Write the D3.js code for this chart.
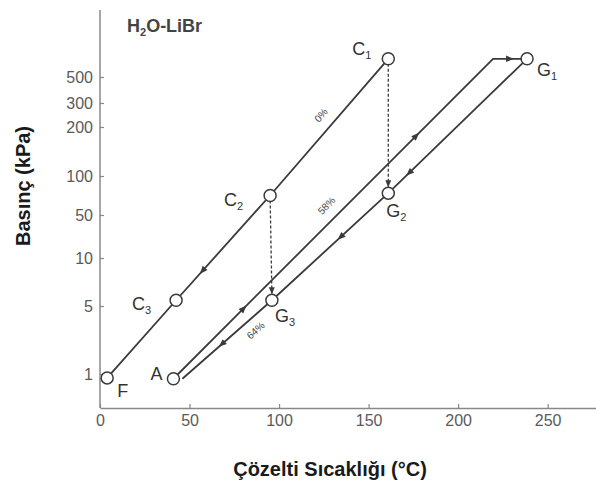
<!DOCTYPE html>
<html>
<head>
<meta charset="utf-8">
<script src="https://d3js.org/d3.v7.min.js"></script>
<style>
  body { margin: 0; background: #fff; }
  svg { display: block; font-family: "Liberation Sans", Arial, sans-serif; }
</style>
</head>
<body>
<svg id="chart" width="596" height="482"></svg>
<script>
// state points of the cycle (temperature °C, pressure kPa)
const stateNames = ["C1", "C2", "C3", "F", "A", "G1", "G2", "G3"];
const stateTemp  = [161, 95, 42.5, 4, 41, 238.5, 161, 96];
const statePress = [640, 75, 5.6, 0.77, 0.72, 640, 78, 5.6];

// concentration lines, in flow direction: [temp, pressure]
const line0  = [[161, 640], [95, 75], [42.5, 5.6], [4, 0.77]];
const line58 = [[41, 0.72], [219.5, 640], [238.5, 640]];
const line64 = [[238.5, 640], [161, 78], [96, 5.6], [46, 0.72]];
const lineNames = ["0%", "58%", "64%"];

// dashed drops between states
const drops = [["C1", "G2"], ["C2", "G3"]];

const xTicks = [0, 50, 100, 150, 200, 250];
const yTicks = [1, 5, 10, 50, 100, 200, 300, 500];

const svg = d3.select("#chart");
const width = +svg.attr("width");
const height = +svg.attr("height");
const ink = "#3a3a3a";

// the pressure axis of the original is non-uniform, so map each tick to its own spot
const yTickPos = [374, 306, 258, 215, 176, 127, 103, 77];
const x = d3.scaleLinear().domain([0, 277]).range([100, width]);
const y = d3.scaleLinear().domain(yTicks).range(yTickPos);
const axisY = 408, axisTop = 10;

const defs = svg.append("defs");
defs.append("marker")
    .attr("id", "head")
    .attr("markerUnits", "userSpaceOnUse")
    .attr("markerWidth", 8).attr("markerHeight", 8)
    .attr("refX", 7).attr("refY", 3)
    .attr("orient", "auto")
  .append("path")
    .attr("d", "M0,0L7,3L0,6Z")
    .attr("fill", ink);

// axes
const gx = svg.append("g")
    .attr("transform", `translate(0,${axisY})`)
    .call(d3.axisBottom(x).tickValues(xTicks).tickSize(-4).tickSizeOuter(0).tickPadding(7));

const gy = svg.append("g")
    .attr("transform", `translate(${x(0)},0)`)
    .call(d3.axisLeft(y).tickValues(yTicks).tickSize(-4).tickSizeOuter(0).tickPadding(7));
gy.select(".domain").remove();
svg.append("line")
    .attr("x1", x(0)).attr("x2", x(0))
    .attr("y1", axisTop).attr("y2", axisY)
    .attr("stroke", "#888").attr("stroke-width", 1.5);

[gx, gy].forEach(g => {
  g.selectAll(".domain").attr("stroke", "#888").attr("stroke-width", 1.5);
  g.selectAll(".tick line").attr("stroke", "#888").attr("stroke-width", 1.2);
  g.selectAll(".tick text")
      .attr("fill", "#5a5a5a")
      .style("font-size", "16px")
      .style("font-family", "'Liberation Sans', Arial, sans-serif");
});

// axis titles
svg.append("text")
    .attr("transform", `translate(30,186) rotate(-90)`)
    .attr("text-anchor", "middle")
    .attr("fill", "#1a1a1a")
    .style("font-size", "20px").style("font-weight", "bold")
    .text("Basınç (kPa)");

svg.append("text")
    .attr("x", 330).attr("y", 476)
    .attr("text-anchor", "middle")
    .attr("fill", "#1a1a1a")
    .style("font-size", "20px").style("font-weight", "bold")
    .text("Çözelti Sıcaklığı (°C)");

// system label
const sys = svg.append("text")
    .attr("x", 127).attr("y", 32)
    .attr("fill", "#444")
    .style("font-size", "18px").style("font-weight", "bold");
sys.append("tspan").text("H");
sys.append("tspan").attr("dy", 4).style("font-size", "11px").text("2");
sys.append("tspan").attr("dy", -4).text("O-LiBr");

// concentration lines
const lines = [line0, line58, line64];
const toPx = d => [x(d[0]), y(d[1])];
const path = d3.line().x(d => x(d[0])).y(d => y(d[1]));

svg.append("g").selectAll("path")
  .data(lines)
  .join("path")
    .attr("d", path)
    .attr("fill", "none")
    .attr("stroke", ink)
    .attr("stroke-width", 1.8);

// dashed drops, ending on the top of the lower circle
const r = 6;
const state = name => {
  const i = stateNames.indexOf(name);
  return [stateTemp[i], statePress[i]];
};
svg.append("g").selectAll("line")
  .data(drops)
  .join("line")
    .attr("x1", d => x(state(d[0])[0]))
    .attr("y1", d => y(state(d[0])[1]))
    .attr("x2", d => x(state(d[1])[0]))
    .attr("y2", d => y(state(d[1])[1]) - r)
    .attr("stroke", ink)
    .attr("stroke-width", 1.3)
    .attr("stroke-dasharray", "3,2")
    .attr("marker-end", "url(#head)");

// flow arrows along lines: [line, segment, fraction]
const arrowMarks = [[0, 1, 0.72], [1, 0, 0.22], [1, 0, 0.76], [1, 1, 0.5],
                    [2, 0, 0.85], [2, 1, 0.41], [2, 2, 0.56]];
svg.append("g").selectAll("path")
  .data(arrowMarks)
  .join("path")
    .attr("d", "M4,0L-4,-3.2L-4,3.2Z")
    .attr("fill", ink)
    .attr("transform", ([li, si, t]) => {
      const a = toPx(lines[li][si]), b = toPx(lines[li][si + 1]);
      const px = a[0] + (b[0] - a[0]) * t, py = a[1] + (b[1] - a[1]) * t;
      const ang = Math.atan2(b[1] - a[1], b[0] - a[0]) * 180 / Math.PI;
      return `translate(${px},${py}) rotate(${ang})`;
    });

// concentration labels: [segment, fraction, offset from line]
const lineLabelPos = [[0, 0.48, 14], [0, 0.51, 14], [2, 0.27, -12]];
svg.append("g").selectAll("text")
  .data(lineNames)
  .join("text")
    .attr("transform", (d, i) => {
      const [si, t, off] = lineLabelPos[i];
      const a = toPx(lines[i][si]), b = toPx(lines[i][si + 1]);
      let ang = Math.atan2(b[1] - a[1], b[0] - a[0]);
      if (ang > Math.PI / 2) ang -= Math.PI;
      if (ang < -Math.PI / 2) ang += Math.PI;
      const px = a[0] + (b[0] - a[0]) * t + Math.sin(ang) * off;
      const py = a[1] + (b[1] - a[1]) * t - Math.cos(ang) * off;
      return `translate(${px},${py}) rotate(${ang * 180 / Math.PI})`;
    })
    .attr("text-anchor", "middle")
    .attr("dy", "0.35em")
    .attr("fill", "#444")
    .style("font-size", "10px")
    .text(d => d);

// state circles
svg.append("g").selectAll("circle")
  .data(stateNames)
  .join("circle")
    .attr("cx", (d, i) => x(stateTemp[i]))
    .attr("cy", (d, i) => y(statePress[i]))
    .attr("r", r)
    .attr("fill", "#fff")
    .attr("stroke", ink)
    .attr("stroke-width", 1.5);

// state labels
const labelOffset = {C1: [-36, -4], C2: [-46, 10], C3: [-44, 10], F: [10, 19],
                     A: [-23, 1], G1: [10, 17], G2: [-2, 24], G3: [3, 22]};
const lab = svg.append("g").selectAll("text")
  .data(stateNames)
  .join("text")
    .attr("x", (d, i) => x(stateTemp[i]) + labelOffset[d][0])
    .attr("y", (d, i) => y(statePress[i]) + labelOffset[d][1])
    .attr("fill", "#333")
    .style("font-size", "18px");
lab.append("tspan").text(d => d[0]);
lab.append("tspan")
    .attr("dy", 4)
    .style("font-size", "11px")
    .text(d => d.slice(1));
</script>
</body>
</html>
